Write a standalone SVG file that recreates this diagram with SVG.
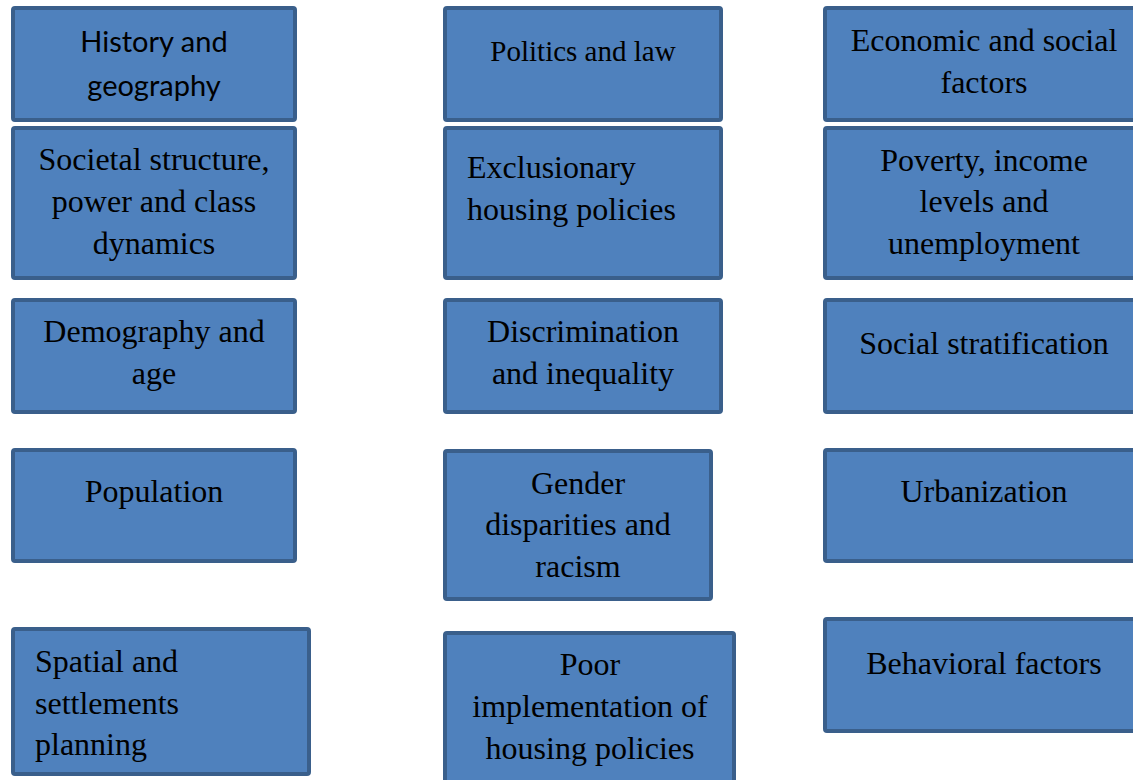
<svg xmlns="http://www.w3.org/2000/svg" width="1133" height="780" viewBox="0 0 1133 780">
<style>
.box{fill:#4F81BD;stroke:#3A5F8B;stroke-width:4}
.t{font-family:"Liberation Serif","Times New Roman",serif;font-size:32px;fill:#000;text-anchor:middle}
.l{text-anchor:start}
.s{font-family:Lato,"Liberation Sans",sans-serif;font-size:29px;fill:#000;text-anchor:middle}
</style>
<rect width="1133" height="780" fill="#fff"/>
<g id="connectors"/>
<g id="n-history"><rect class="box" x="13" y="8" width="282" height="112" rx="2"/><text class="s" x="154" y="52">History and</text><text class="s" x="154" y="96">geography</text></g>
<g id="n-politics"><rect class="box" x="445" y="8" width="276" height="112" rx="2"/><text class="t" x="583" y="61" style="font-size:29px">Politics and law</text></g>
<g id="n-economic"><rect class="box" x="825" y="8" width="320" height="112" rx="2"/><text class="t" x="984" y="51">Economic and social</text><text class="t" x="984" y="93">factors</text></g>
<g id="n-societal"><rect class="box" x="13" y="128" width="282" height="150" rx="2"/><text class="t" x="154" y="169.5">Societal structure,</text><text class="t" x="154" y="211.5">power and class</text><text class="t" x="154" y="253.5">dynamics</text></g>
<g id="n-exclusionary"><rect class="box" x="445" y="128" width="276" height="150" rx="2"/><text class="t l" x="467" y="177.5">Exclusionary</text><text class="t l" x="467" y="219.5">housing policies</text></g>
<g id="n-poverty"><rect class="box" x="825" y="128" width="320" height="150" rx="2"/><text class="t" x="984" y="170.5">Poverty, income</text><text class="t" x="984" y="211.5">levels and</text><text class="t" x="984" y="253.5">unemployment</text></g>
<g id="n-demography"><rect class="box" x="13" y="300" width="282" height="112" rx="2"/><text class="t" x="154" y="341.5">Demography and</text><text class="t" x="154" y="383.5">age</text></g>
<g id="n-discrimination"><rect class="box" x="445" y="300" width="276" height="112" rx="2"/><text class="t" x="583" y="341.5">Discrimination</text><text class="t" x="583" y="383.5">and inequality</text></g>
<g id="n-stratification"><rect class="box" x="825" y="300" width="320" height="112" rx="2"/><text class="t" x="984" y="353.5">Social stratification</text></g>
<g id="n-population"><rect class="box" x="13" y="450" width="282" height="111" rx="2"/><text class="t" x="154" y="501.5">Population</text></g>
<g id="n-gender"><rect class="box" x="445" y="451" width="266" height="148" rx="2"/><text class="t" x="578" y="493.5">Gender</text><text class="t" x="578" y="534.5">disparities and</text><text class="t" x="578" y="576.5">racism</text></g>
<g id="n-urbanization"><rect class="box" x="825" y="450" width="320" height="111" rx="2"/><text class="t" x="984" y="501.5">Urbanization</text></g>
<g id="n-spatial"><rect class="box" x="13" y="629" width="296" height="145" rx="2"/><text class="t l" x="35" y="671.5">Spatial and</text><text class="t l" x="35" y="713.5">settlements</text><text class="t l" x="35" y="754.5">planning</text></g>
<g id="n-poor"><rect class="box" x="445" y="633" width="289" height="160" rx="2"/><text class="t" x="590" y="674.5">Poor</text><text class="t" x="590" y="716.5">implementation of</text><text class="t" x="590" y="758.5">housing policies</text></g>
<g id="n-behavioral"><rect class="box" x="825" y="619" width="320" height="112" rx="2"/><text class="t" x="984" y="673.5">Behavioral factors</text></g>
</svg>
